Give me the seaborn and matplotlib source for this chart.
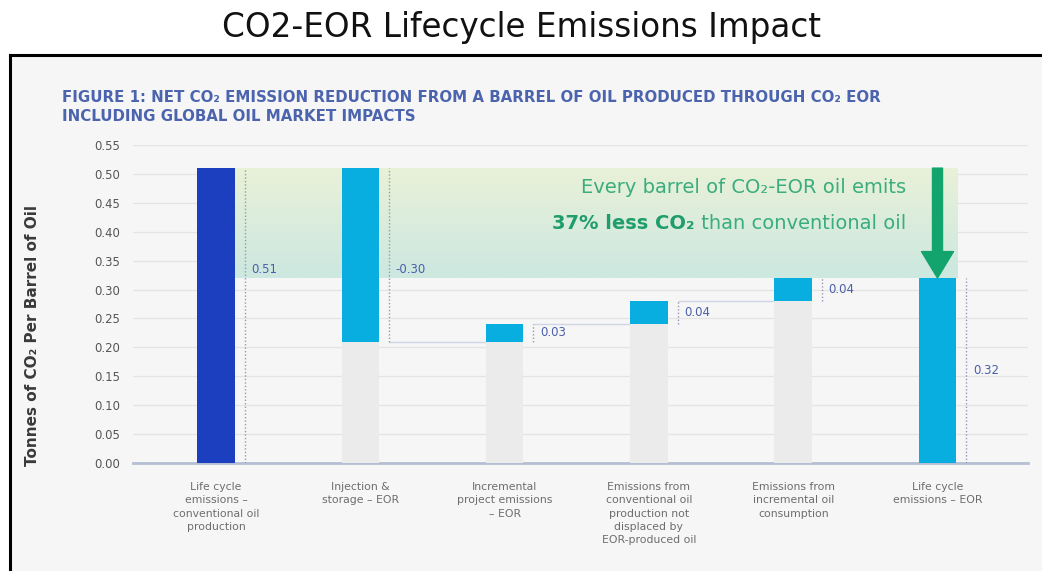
import numpy as np
import pandas as pd
import matplotlib
matplotlib.use("Agg")
import matplotlib.pyplot as plt
from matplotlib.lines import Line2D
from matplotlib.patches import Rectangle
import seaborn as sns

# ---------------- data ----------------
steps = [
    "Life cycle\nemissions \u2013\nconventional oil\nproduction",
    "Injection &\nstorage \u2013 EOR",
    "Incremental\nproject emissions\n\u2013 EOR",
    "Emissions from\nconventional oil\nproduction not\ndisplaced by\nEOR-produced oil",
    "Emissions from\nincremental oil\nconsumption",
    "Life cycle\nemissions \u2013 EOR",
]
values = [0.51, -0.30, 0.03, 0.04, 0.04, 0.32]
value_labels = ["0.51", "-0.30", "0.03", "0.04", "0.04", "0.32"]
is_total = [True, False, False, False, False, True]
yticks = [0.00, 0.05, 0.10, 0.15, 0.20, 0.25, 0.30, 0.35, 0.40, 0.45, 0.50, 0.55]

title = "CO2-EOR Lifecycle Emissions Impact"
header = ("FIGURE 1: NET CO\u2082 EMISSION REDUCTION FROM A BARREL OF OIL PRODUCED THROUGH CO\u2082 EOR\n"
          "INCLUDING GLOBAL OIL MARKET IMPACTS")
ylabel = "Tonnes of CO\u2082 Per Barrel of Oil"
callout_1 = "Every barrel of CO\u2082-EOR oil emits"
callout_2a = "37% less CO\u2082"
callout_2b = " than conventional oil"

# waterfall geometry derived from the values
starts, ends = [], []
running = 0.0
for v, tot in zip(values, is_total):
    s = 0.0 if tot else running
    e = s + v
    starts.append(s)
    ends.append(e)
    running = e
grey = [0.0 if tot else min(s, e) for s, e, tot in zip(starts, ends, is_total)]

# ---------------- figure ----------------
W, H = 1042, 571
fig = plt.figure(figsize=(W / 100, H / 100), dpi=100)
fig.patch.set_facecolor("white")

# framed light-grey panel
fig.patches.append(Rectangle((10 / W, 0), 1, (H - 55) / H, transform=fig.transFigure,
                             facecolor="#f6f6f6", edgecolor="none", zorder=-2))
fig.lines.append(Line2D([9.5 / W, 1], [(H - 55) / H] * 2, transform=fig.transFigure,
                        color="black", lw=2.2, zorder=-1))
fig.lines.append(Line2D([9.5 / W] * 2, [0, (H - 55) / H], transform=fig.transFigure,
                        color="black", lw=2.2, zorder=-1))

fig.text(0.5, 1 - 27 / H, title, ha="center", va="center", fontsize=23.5,
         family="DejaVu Sans", color="#111111")

fig.text(62 / W, 1 - 107 / H, header, ha="left", va="center", fontsize=10.8,
         fontweight="bold", color="#4b64ad", linespacing=1.3,
         family=["DejaVu Sans"])

ax = fig.add_axes([133 / W, 108 / H, (1028 - 133) / W, 318 / H])
ax.set_facecolor("none")

df = pd.DataFrame({"step": steps, "value": values, "grey": grey})

bw = 0.26
sns.barplot(data=df, x="step", y="grey", color="#ebebeb", width=bw, errorbar=None,
            saturation=1, ax=ax, zorder=3, linewidth=0)
n0 = len(ax.patches)
sns.barplot(data=df, x="step", y="value", color="#08aee0", width=bw, errorbar=None,
            saturation=1, ax=ax, zorder=4, linewidth=0, bottom=np.array(starts))
for i, p in enumerate(ax.patches[n0:]):
    p.set_facecolor("#1c3fbf" if i == 0 else "#08aee0")

# shaded reduction band with gradient
band_lo, band_hi = ends[-1], ends[0]
grad = np.linspace(0, 1, 64)[:, None]
top_c = np.array([233, 241, 216]) / 255
bot_c = np.array([204, 232, 224]) / 255
img = top_c[None, None, :] * (1 - grad[:, :, None]) + bot_c[None, None, :] * grad[:, :, None]
ax.imshow(img, extent=[bw / 2, len(values) - 1 + bw / 2 + 0.005, band_lo, band_hi],
          aspect="auto", zorder=1, interpolation="bilinear")

# dotted value markers, labels, connectors
for i, (s, e, lab) in enumerate(zip(starts, ends, value_labels)):
    xd = i + bw / 2 + 0.07
    ax.vlines(xd, min(s, e), max(s, e), colors="#9a94b8", linestyles=(0, (1, 1.5)),
              lw=1.0, zorder=5)
    ymid = (s + e) / 2
    if max(s, e) >= band_hi:
        ymid = band_lo + 0.015
    ax.text(i + 0.245, ymid, lab, ha="left", va="center", fontsize=8.5,
            color="#4a5fa8", zorder=6, family=["DejaVu Sans"])
for i in range(1, len(values) - 2):
    ax.hlines(ends[i], i + bw / 2 + 0.07, i + 1 - bw / 2, colors="#cfd5e2", lw=1.0, zorder=2)

# callout text
cfs = 14.0
t2 = ax.text(5.0 - 0.22, 0.414, callout_2b, ha="right", va="center", fontsize=cfs,
             color="#3aad7d", zorder=7, family=["DejaVu Sans"])
ax.annotate(callout_2a, xy=(0, 0.5), xycoords=t2, ha="right", va="center", fontsize=cfs,
            color="#1f9d6b", fontweight="bold", zorder=7, family=["DejaVu Sans"])
ax.text(5.0 - 0.22, 0.477, callout_1, ha="right", va="center", fontsize=cfs,
        color="#3aad7d", zorder=7, family=["DejaVu Sans"])

# arrow
ax.annotate("", xy=(len(values) - 1, band_lo), xytext=(len(values) - 1, band_hi),
            arrowprops=dict(arrowstyle="simple,head_length=0.95,head_width=1.15,tail_width=0.36",
                            mutation_scale=20, color="#12a46c", shrinkA=0, shrinkB=0),
            zorder=8)

# axes styling
ax.set_xlim((133 - 216) / 144.3, (1028 - 216) / 144.3)
ax.set_ylim(0, 0.55)
ax.set_yticks(yticks)
ax.set_yticklabels([f"{t:.2f}" for t in yticks], fontsize=8.4, color="#555555",
                   family=["DejaVu Sans"])
ax.yaxis.grid(True, color="#e4e4e4", lw=0.9, zorder=0)
ax.xaxis.grid(False)
ax.set_axisbelow(True)
for sp in ["top", "right", "left"]:
    ax.spines[sp].set_visible(False)
ax.spines["bottom"].set_color("#b5bfd3")
ax.spines["bottom"].set_linewidth(2)
ax.tick_params(axis="y", length=0, pad=9)
ax.tick_params(axis="x", length=0, pad=14)
ax.set_xticks(range(len(steps)))
ax.set_xticklabels(steps, fontsize=7.8, color="#6d6d6d", linespacing=1.38,
                   va="top", family=["DejaVu Sans"])
ax.set_xlabel("")
ax.set_ylabel(ylabel, fontsize=11.0, color="#3a3a3a", fontweight="bold",
              family=["DejaVu Sans"])
ax.yaxis.set_label_coords(-0.104, 0.40)

fig.savefig("out.png", dpi=100)
